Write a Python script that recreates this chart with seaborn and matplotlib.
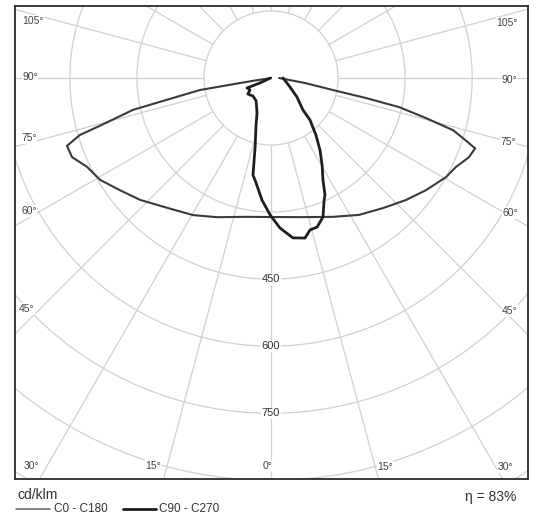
import numpy as np
import pandas as pd
import matplotlib
matplotlib.use("Agg")
import matplotlib.pyplot as plt
import seaborn as sns
from matplotlib.lines import Line2D
from matplotlib.patches import Circle

# ---------------- data ----------------
# C0 - C180 plane (wide batwing), gamma in degrees (negative = C180 side), intensity in cd/klm
c0_gamma = [-90, -81, -80.8, -80.4, -78.1, -77, -74.4, -73.4, -71.6, -68.3, -64.2,
            -59.2, -53.4, -47, -38.7, -29.7, -21.2, -10.6, 0, 11.8, 24, 32.7, 40.7,
            47.9, 54.1, 60.5, 64.3, 68.2, 71, 72.3, 74, 75.5, 77.2, 78.1, 79, 81.6, 90]
c0_int = [0, 40, 70, 161, 242, 317, 397, 446, 481, 479, 457,
          445, 421, 400, 372, 353, 334, 316, 311, 318, 340, 364, 384,
          407, 428, 450, 459, 477, 483, 456, 424, 358, 294, 217, 141, 77, 18]

# C90 - C270 plane (narrow lobe)
c90_gamma = [-90, -66, -67.4, -60.3, -55.2, -45, -33.1, -21.8, -17.7, -13, -10.5, -8.9,
             -4.2, -0.4, 3.4, 7.8, 12, 14.4, 17.2, 20.5, 23.5, 24.8, 27, 30.4, 34.2,
             38.3, 42.9, 45, 53.8, 64.7, 90]
c90_int = [1, 27, 58, 54, 63, 57, 61, 84, 110, 158, 221, 231,
           274, 306, 336, 361, 366, 351, 349, 332, 298, 288, 256, 226, 195,
           162, 128, 101, 72, 47, 27]

ring_values = [150, 300, 450, 600, 750, 900, 1050]
ring_labels = [450, 600, 750]
spoke_angles = list(range(0, 360, 15))
angle_labels = ["105°", "90°", "75°", "60°", "45°", "30°", "15°", "0°",
                "15°", "30°", "45°", "60°", "75°", "90°", "105°"]
series_names = ["C0 - C180", "C90 - C270"]
unit_label = "cd/klm"
efficiency_label = "η = 83%"

# ---------------- layout ----------------
W, H = 536, 517
S = 0.447          # px per cd/klm
CX, CY = 271, 78   # pole position in px
GRID = "#cfcfd6"
TXT = "#333333"

sns.set_theme(style="white")
plt.rcParams["font.family"] = ["Liberation Sans", "DejaVu Sans"]

fig = plt.figure(figsize=(W / 100, H / 100), dpi=100)
fig.patch.set_facecolor("white")
ax = fig.add_axes([15 / W, (H - 479) / H, (528 - 15) / W, (479 - 6) / H])
ax.set_xlim((15 - CX) / S, (528 - CX) / S)
ax.set_ylim((CY - 479) / S, (CY - 6) / S)
ax.set_facecolor("white")

# polar grid
for r in ring_values:
    ax.add_patch(Circle((0, 0), r, fill=False, ec=GRID, lw=0.9, zorder=1))
for a in spoke_angles:
    t = np.radians(a)
    ax.plot([150 * np.sin(t), 1300 * np.sin(t)], [-150 * np.cos(t), -1300 * np.cos(t)],
            color=GRID, lw=0.9, zorder=1, solid_capstyle="butt")


def to_xy(g, i):
    g = np.radians(np.asarray(g, float))
    i = np.asarray(i, float)
    return pd.DataFrame({"x": i * np.sin(g), "y": -i * np.cos(g)})


df0 = to_xy(c0_gamma, c0_int)
df90 = to_xy(c90_gamma, c90_int)
sns.lineplot(data=df0, x="x", y="y", sort=False, estimator=None, ax=ax,
             color="#3a3a3a", lw=1.5, zorder=4)
sns.lineplot(data=df90, x="x", y="y", sort=False, estimator=None, ax=ax,
             color="#1e1e1e", lw=2.0, zorder=5)

ax.set_xlabel("")
ax.set_ylabel("")
ax.set_xticks([])
ax.set_yticks([])
for s in ax.spines.values():
    s.set_visible(True)
    s.set_color("#2a2a2a")
    s.set_linewidth(1.3)

# ring labels on the 0° spoke
for r in ring_labels:
    ax.text(0, -r, str(r), ha="center", va="center", fontsize=8, color=TXT, zorder=3,
            bbox=dict(fc="white", ec="none", pad=0.5))

# angle labels around the frame (pixel positions)
label_pos = [(33, 21), (30, 77), (29, 138), (29, 211), (27, 309), (31, 466), (153, 466),
             (268, 466), (385, 467), (505, 467), (510, 311), (510, 213), (508, 142),
             (509, 80), (507, 23)]
for lab, (px, py) in zip(angle_labels, label_pos):
    fig.text(px / W, 1 - py / H, lab, ha="center", va="center", fontsize=7.5, color="#444444",
             bbox=dict(fc="white", ec="none", pad=0.4))

# footer
fig.text(17 / W, 1 - 495 / H, unit_label, ha="left", va="center", fontsize=10, color=TXT)
fig.text(516 / W, 1 - 497 / H, efficiency_label, ha="right", va="center", fontsize=10, color=TXT)
fig.add_artist(Line2D([16 / W, 50 / W], [1 - 509 / H, 1 - 509 / H], color="#666666", lw=1.1,
                      transform=fig.transFigure))
fig.text(54 / W, 1 - 509 / H, series_names[0], ha="left", va="center", fontsize=8.5, color=TXT)
fig.add_artist(Line2D([123 / W, 156 / W], [1 - 509 / H, 1 - 509 / H], color="#1e1e1e", lw=2.0,
                      transform=fig.transFigure))
fig.text(159 / W, 1 - 509 / H, series_names[1], ha="left", va="center", fontsize=8.5, color=TXT)

fig.savefig("out.png", dpi=100, facecolor="white")
